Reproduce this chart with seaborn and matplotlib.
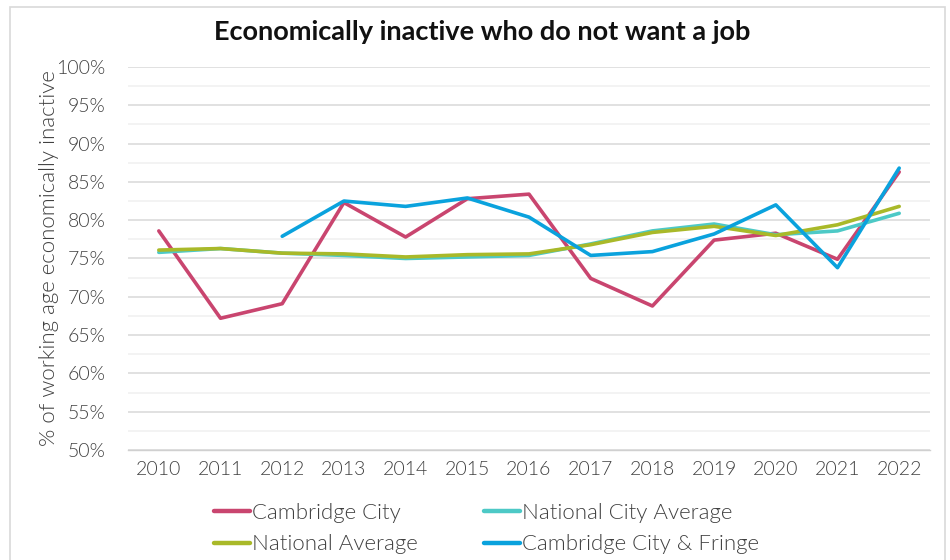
import numpy as np
import pandas as pd
import matplotlib
matplotlib.use("Agg")
import matplotlib.pyplot as plt
import seaborn as sns
from matplotlib.patches import Rectangle
from matplotlib.ticker import MultipleLocator, FuncFormatter

years = list(range(2010, 2023))

cambridge_city = [78.6, 67.2, 69.1, 82.3, 77.8, 82.8, 83.4, 72.4, 68.8, 77.4, 78.3, 74.9, 86.3]
national_city_avg = [75.8, 76.3, 75.7, 75.4, 75.0, 75.2, 75.4, 76.9, 78.6, 79.5, 78.1, 78.6, 80.9]
national_avg = [76.1, 76.3, 75.7, 75.6, 75.2, 75.5, 75.6, 76.8, 78.4, 79.2, 78.0, 79.4, 81.8]
cambridge_fringe = [np.nan, np.nan, 77.9, 82.5, 81.8, 82.9, 80.4, 75.4, 75.9, 78.2, 82.0, 73.8, 86.8]

series_names = ["Cambridge City", "National City Average", "National Average",
                "Cambridge City & Fringe"]
colors = ["#C9456F", "#4DC9C6", "#A9B929", "#0AA2DD"]

# long format for seaborn
frames = []
for name, vals in zip(series_names,
                      [cambridge_city, national_city_avg, national_avg, cambridge_fringe]):
    frames.append(pd.DataFrame({"year": years, "value": vals, "series": name}))
df = pd.concat(frames, ignore_index=True)

sns.set_style("white")
plt.rcParams["font.family"] = ["Lato", "DejaVu Sans"]
txt_col = "#404040"
thin = 300

fig = plt.figure(figsize=(9.5, 5.6), dpi=100)
ax = fig.add_axes([0.1347, 0.1964, 0.8443, 0.684])

sns.lineplot(data=df, x="year", y="value", hue="series", hue_order=series_names,
             palette=colors, linewidth=2.6, ax=ax, legend=False)

ax.set_xlim(2009.5, 2022.5)
ax.set_ylim(50, 100)
ax.set_xticks(years)
ax.set_xticklabels([str(y) for y in years])
ax.xaxis.set_minor_locator(MultipleLocator(1, offset=0.5))
ax.yaxis.set_major_locator(MultipleLocator(5))
ax.yaxis.set_minor_locator(MultipleLocator(2.5))
ax.yaxis.set_major_formatter(FuncFormatter(lambda v, p: f"{v:.0f}%"))

ax.grid(axis="y", which="major", color="#D9D9D9", linewidth=1.1)
ax.grid(axis="y", which="minor", color="#F0F0F0", linewidth=1.1)
ax.set_axisbelow(True)
for s in ["top", "right", "left"]:
    ax.spines[s].set_visible(False)
ax.spines["bottom"].set_color("#D0D0D0")
ax.spines["bottom"].set_linewidth(1.0)

ax.tick_params(axis="x", which="major", length=0, pad=8, labelsize=14, labelcolor=txt_col)
ax.tick_params(axis="x", which="minor", length=5, color="#D0D0D0", width=1)
ax.tick_params(axis="y", which="both", length=0, pad=16, labelsize=14, labelcolor=txt_col)
for lab in ax.get_xticklabels() + ax.get_yticklabels():
    lab.set_fontweight(thin)

ax.set_xlabel("")
ax.set_ylabel("% of working age economically inactive", fontsize=16, color=txt_col,
              fontweight=thin, labelpad=-2)

fig.text(0.508, 0.942, "Economically inactive who do not want a job", ha="center",
         va="center", fontsize=19.5, fontweight="bold", color="#111111")

handles = [plt.Line2D([], [], color=c, linewidth=3.2) for c in colors]
order = [0, 2, 1, 3]
leg = fig.legend([handles[i] for i in order], [series_names[i] for i in order],
                 ncol=2, loc="upper left", bbox_to_anchor=(0.216, 0.118),
                 frameon=False, fontsize=16, handlelength=1.6, handletextpad=0.1,
                 columnspacing=3.0, labelspacing=0.52, borderaxespad=0)
for t in leg.get_texts():
    t.set_color(txt_col)
    t.set_fontweight(thin)

fig.patches.append(Rectangle((0.011, -0.01), 0.984, 0.998, transform=fig.transFigure,
                             fill=False, edgecolor="#D9D9D9", linewidth=1.2))

fig.savefig("out.png", dpi=100)
